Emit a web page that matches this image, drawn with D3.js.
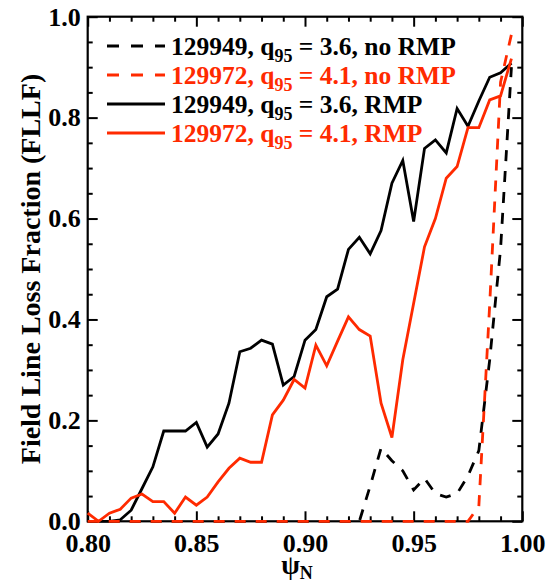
<!DOCTYPE html>
<html>
<head>
<meta charset="utf-8">
<script src="https://cdn.jsdelivr.net/npm/d3@7"></script>
<style>
  html, body { margin: 0; padding: 0; background: #fff; }
  svg { display: block; }
</style>
</head>
<body>
<svg id="chart" width="547" height="584"></svg>
<script>
// ---- data ----
const psi = [0.800, 0.805, 0.810, 0.815, 0.820, 0.825, 0.830, 0.835, 0.840, 0.845,
             0.850, 0.855, 0.860, 0.865, 0.870, 0.875, 0.880, 0.885, 0.890, 0.895,
             0.900, 0.905, 0.910, 0.915, 0.920, 0.925, 0.930, 0.935, 0.940, 0.945,
             0.950, 0.955, 0.960, 0.965, 0.970, 0.975, 0.980, 0.985, 0.990, 0.995];

const fllf129949NoRmp = [0, 0, 0, 0, 0, 0, 0, 0, 0, 0,
                         0, 0, 0, 0, 0, 0, 0, 0, 0, 0,
                         0, 0, 0, 0, 0, 0, 0.07, 0.145, 0.12, 0.10,
                         0.062, 0.085, 0.055, 0.048, 0.055, 0.09, 0.14, 0.32, 0.54, 0.90];

const fllf129972NoRmp = [0, 0, 0, 0, 0, 0, 0, 0, 0, 0,
                         0, 0, 0, 0, 0, 0, 0, 0, 0, 0,
                         0, 0, 0, 0, 0, 0, 0, 0, 0, 0,
                         0, 0, 0, 0, 0, 0, 0.03, 0.43, 0.87, 0.965];

const fllf129949Rmp = [0, 0, 0, 0.003, 0.022, 0.065, 0.108, 0.179, 0.179, 0.179,
                       0.196, 0.147, 0.173, 0.234, 0.336, 0.343, 0.359, 0.351, 0.27, 0.287,
                       0.359, 0.38, 0.445, 0.46, 0.539, 0.563, 0.53, 0.576, 0.67, 0.715,
                       0.594, 0.739, 0.756, 0.73, 0.818, 0.783, 0.833, 0.88, 0.889, 0.908];

const fllf129972Rmp = [0.016, 0.0, 0.016, 0.024, 0.046, 0.054, 0.039, 0.039, 0.016, 0.048,
                       0.032, 0.048, 0.078, 0.105, 0.125, 0.117, 0.117, 0.211, 0.24, 0.281,
                       0.264, 0.349, 0.308, 0.357, 0.405, 0.38, 0.367, 0.234, 0.166, 0.32,
                       0.432, 0.544, 0.60, 0.68, 0.703, 0.78, 0.78, 0.835, 0.843, 0.917];

const xMajorTicks = [0.80, 0.85, 0.90, 0.95, 1.00];
const xMinorTicks = [0.81, 0.82, 0.83, 0.84, 0.86, 0.87, 0.88, 0.89, 0.91, 0.92, 0.93, 0.94, 0.96, 0.97, 0.98, 0.99];
const yMajorTicks = [0.0, 0.2, 0.4, 0.6, 0.8, 1.0];
const yMinorTicks = [0.05, 0.10, 0.15, 0.25, 0.30, 0.35, 0.45, 0.50, 0.55, 0.65, 0.70, 0.75, 0.85, 0.90, 0.95];

const legendShots = ["129949", "129972", "129949", "129972"];
const legendQ95 = ["3.6", "4.1", "3.6", "4.1"];
const legendTail = ["no RMP", "no RMP", "RMP", "RMP"];

const RED = "#ff2a00";
const FONT = "'Liberation Serif', 'Times New Roman', Tinos, 'DejaVu Serif', serif";

// ---- chart ----
const svg = d3.select("#chart");
const L = 87.7, R = 522.3, T = 16.7, B = 521.3;
const x = d3.scaleLinear().domain([0.80, 1.00]).range([L, R]);
const y = d3.scaleLinear().domain([0, 1]).range([B, T]);

const series = [
  { values: fllf129949Rmp,   color: "#000", dash: null },
  { values: fllf129949NoRmp, color: "#000", dash: "11,10" },
  { values: fllf129972Rmp,   color: RED,    dash: null },
  { values: fllf129972NoRmp, color: RED,    dash: "11,10" }
];
const legendStyle = [
  { color: "#000", dash: "12,12" },
  { color: RED,    dash: "12,12" },
  { color: "#000", dash: null },
  { color: RED,    dash: null }
];

function styleAxis(g) {
  g.attr("font-family", FONT).attr("font-weight", "bold");
  g.select(".domain").remove();
  g.selectAll(".tick line").attr("stroke", "#000").attr("stroke-width", 2);
  g.selectAll(".tick text").attr("fill", "#000")
    .style("font-family", FONT).style("font-weight", "bold").style("font-size", "26px");
}
svg.append("g").attr("transform", `translate(0,${B})`)
  .call(d3.axisBottom(x).tickValues(xMajorTicks).tickSize(-10).tickPadding(12).tickFormat(d3.format(".2f")))
  .call(styleAxis);
svg.append("g").attr("transform", `translate(0,${B})`)
  .call(d3.axisBottom(x).tickValues(xMinorTicks).tickSize(-5).tickFormat(""))
  .call(styleAxis);
svg.append("g").attr("transform", `translate(0,${T})`)
  .call(d3.axisTop(x).tickValues(xMajorTicks).tickSize(-10).tickFormat(""))
  .call(styleAxis);
svg.append("g").attr("transform", `translate(0,${T})`)
  .call(d3.axisTop(x).tickValues(xMinorTicks).tickSize(-5).tickFormat(""))
  .call(styleAxis);
svg.append("g").attr("transform", `translate(${L},0)`)
  .call(d3.axisLeft(y).tickValues(yMajorTicks).tickSize(-10).tickPadding(7).tickFormat(d3.format(".1f")))
  .call(styleAxis);
svg.append("g").attr("transform", `translate(${L},0)`)
  .call(d3.axisLeft(y).tickValues(yMinorTicks).tickSize(-5).tickFormat(""))
  .call(styleAxis);
svg.append("g").attr("transform", `translate(${R},0)`)
  .call(d3.axisRight(y).tickValues(yMajorTicks).tickSize(-10).tickFormat(""))
  .call(styleAxis);
svg.append("g").attr("transform", `translate(${R},0)`)
  .call(d3.axisRight(y).tickValues(yMinorTicks).tickSize(-5).tickFormat(""))
  .call(styleAxis);

// frame
svg.append("rect").attr("x", L).attr("y", T).attr("width", R - L).attr("height", B - T)
  .attr("fill", "none").attr("stroke", "#000").attr("stroke-width", 2.2);

// lines
const line = d3.line().x((d, i) => x(psi[i])).y(d => y(d));
series.forEach(s => {
  svg.append("path").datum(s.values)
    .attr("d", line)
    .attr("fill", "none")
    .attr("stroke", s.color)
    .attr("stroke-width", 2.8)
    .attr("stroke-dasharray", s.dash);
});

function txt(sel) {
  return sel.style("font-family", FONT).style("font-weight", "bold");
}

// axis titles
const xt = txt(svg.append("text")).attr("x", (L + R) / 2 - 8).attr("y", 574)
  .attr("text-anchor", "middle").attr("fill", "#000").style("font-size", "27px");
xt.append("tspan").text("ψ");
xt.append("tspan").attr("dy", 5).style("font-size", "18px").text("N");

txt(svg.append("text"))
  .attr("transform", `translate(40,${(T + B) / 2}) rotate(-90)`)
  .attr("text-anchor", "middle").attr("fill", "#000").style("font-size", "28px")
  .text("Field Line Loss Fraction (FLLF)");

// legend
const lg = svg.append("g");
const baselines = [55, 84, 113, 142];
legendShots.forEach((shot, i) => {
  const st = legendStyle[i];
  const by = baselines[i];
  lg.append("line").attr("x1", 107).attr("x2", 165).attr("y1", by - 9).attr("y2", by - 9)
    .attr("stroke", st.color).attr("stroke-width", 2.8).attr("stroke-dasharray", st.dash);
  const t = txt(lg.append("text")).attr("x", 171).attr("y", by).attr("fill", st.color).style("font-size", "25.5px");
  t.append("tspan").text(`${shot}, q`);
  t.append("tspan").attr("dy", 7).style("font-size", "18px").text("95");
  t.append("tspan").attr("dy", -7).text(` = ${legendQ95[i]}, ${legendTail[i]}`);
});
</script>
</body>
</html>
